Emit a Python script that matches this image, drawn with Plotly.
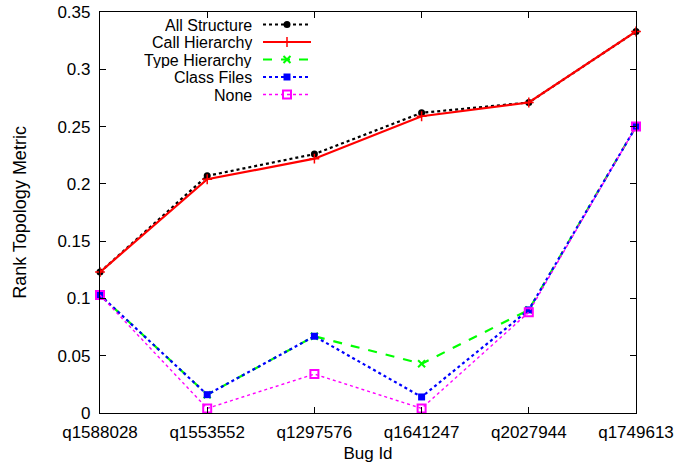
import plotly.graph_objects as go

bug_ids = ["q1588028", "q1553552", "q1297576", "q1641247", "q2027944", "q1749613"]
all_structure = [0.123, 0.207, 0.226, 0.262, 0.271, 0.333]
call_hierarchy = [0.123, 0.204, 0.222, 0.259, 0.271, 0.333]
type_hierarchy = [0.103, 0.016, 0.067, 0.043, 0.090, 0.250]
class_files = [0.103, 0.016, 0.067, 0.014, 0.090, 0.250]
none_vals = [0.103, 0.004, 0.034, 0.004, 0.088, 0.250]

y_ticks = [0, 0.05, 0.1, 0.15, 0.2, 0.25, 0.3, 0.35]
y_tick_text = ["0", "0.05", "0.1", "0.15", "0.2", "0.25", "0.3", "0.35"]

series = [
    ("All Structure", all_structure, "#000000", "dot", 2.2, "circle", 7, 0),
    ("Call Hierarchy", call_hierarchy, "#ff0000", "solid", 2.2, "cross-thin", 7, 1.5),
    ("Type Hierarchy", type_hierarchy, "#00ff00", "dash", 2.2, "x-thin", 7, 2),
    ("Class Files", class_files, "#0000ff", "dot", 2.2, "square", 7, 0),
    ("None", none_vals, "#ff00ff", "dot", 1.4, "square-open", 8, 2),
]

FONT = "Liberation Sans, Arial, Helvetica, sans-serif"
FS = 17
LEG_FS = 16
W, H = 697, 470

fig = go.Figure()
xs = list(range(len(bug_ids)))
for name, vals, col, dash, lw, sym, ms, mlw in series:
    fig.add_trace(go.Scatter(
        x=xs, y=vals, mode="lines+markers", name=name,
        line=dict(color=col, dash=dash, width=lw),
        marker=dict(symbol=sym, size=ms, color=col, line=dict(color=col, width=mlw)),
        cliponaxis=False, showlegend=False,
    ))

# custom gnuplot-style legend (text on left, sample on right), in pixel space of the plot area
leg_y0, leg_dy = 24.5, 17.5
for i, (name, vals, col, dash, lw, sym, ms, mlw) in enumerate(series):
    yy = leg_y0 + i * leg_dy
    fig.add_trace(go.Scatter(
        x=[263, 287, 311], y=[yy, yy, yy], mode="lines",
        line=dict(color=col, dash=dash, width=lw),
        xaxis="x2", yaxis="y2", showlegend=False, hoverinfo="skip",
    ))
    fig.add_trace(go.Scatter(
        x=[287], y=[yy], mode="markers",
        marker=dict(symbol=sym, size=ms, color=col, line=dict(color=col, width=mlw)),
        xaxis="x2", yaxis="y2", showlegend=False, hoverinfo="skip",
    ))
    fig.add_annotation(
        x=253, y=yy, xref="x2", yref="y2", text=name, showarrow=False,
        xanchor="right", yanchor="middle", height=16, borderpad=0,
        font=dict(family=FONT, size=LEG_FS, color="#000"),
    )

axis_common = dict(
    showline=True, linecolor="#000", linewidth=1.2, mirror="ticks",
    ticks="inside", ticklen=6, tickcolor="#000", tickwidth=1,
    showgrid=False, zeroline=False, automargin=False,
    tickfont=dict(family=FONT, size=FS, color="#000"),
)

fig.update_layout(
    width=W, height=H,
    margin=dict(l=100, r=61, t=12, b=57),
    paper_bgcolor="#fff", plot_bgcolor="#fff",
    font=dict(family=FONT, size=FS, color="#000"),
    xaxis=dict(
        **axis_common, range=[0, 5], tickmode="array", tickvals=xs, ticktext=bug_ids,
        title=dict(text="Bug Id", font=dict(family=FONT, size=FS), standoff=6),
        ticklabelstandoff=3,
    ),
    yaxis=dict(
        **axis_common, range=[0, 0.35], tickmode="array", tickvals=y_ticks, ticktext=y_tick_text,
        title=dict(text="Rank Topology Metric", font=dict(family=FONT, size=18), standoff=26),
        ticklabelstandoff=5,
    ),
    xaxis2=dict(overlaying="x", range=[100, 636], visible=False, fixedrange=True),
    yaxis2=dict(overlaying="y", range=[413, 12], visible=False, fixedrange=True),
    showlegend=False,
)

fig.write_html("out.html", config={"displayModeBar": False},
               post_script="document.body.style.margin='0';")
